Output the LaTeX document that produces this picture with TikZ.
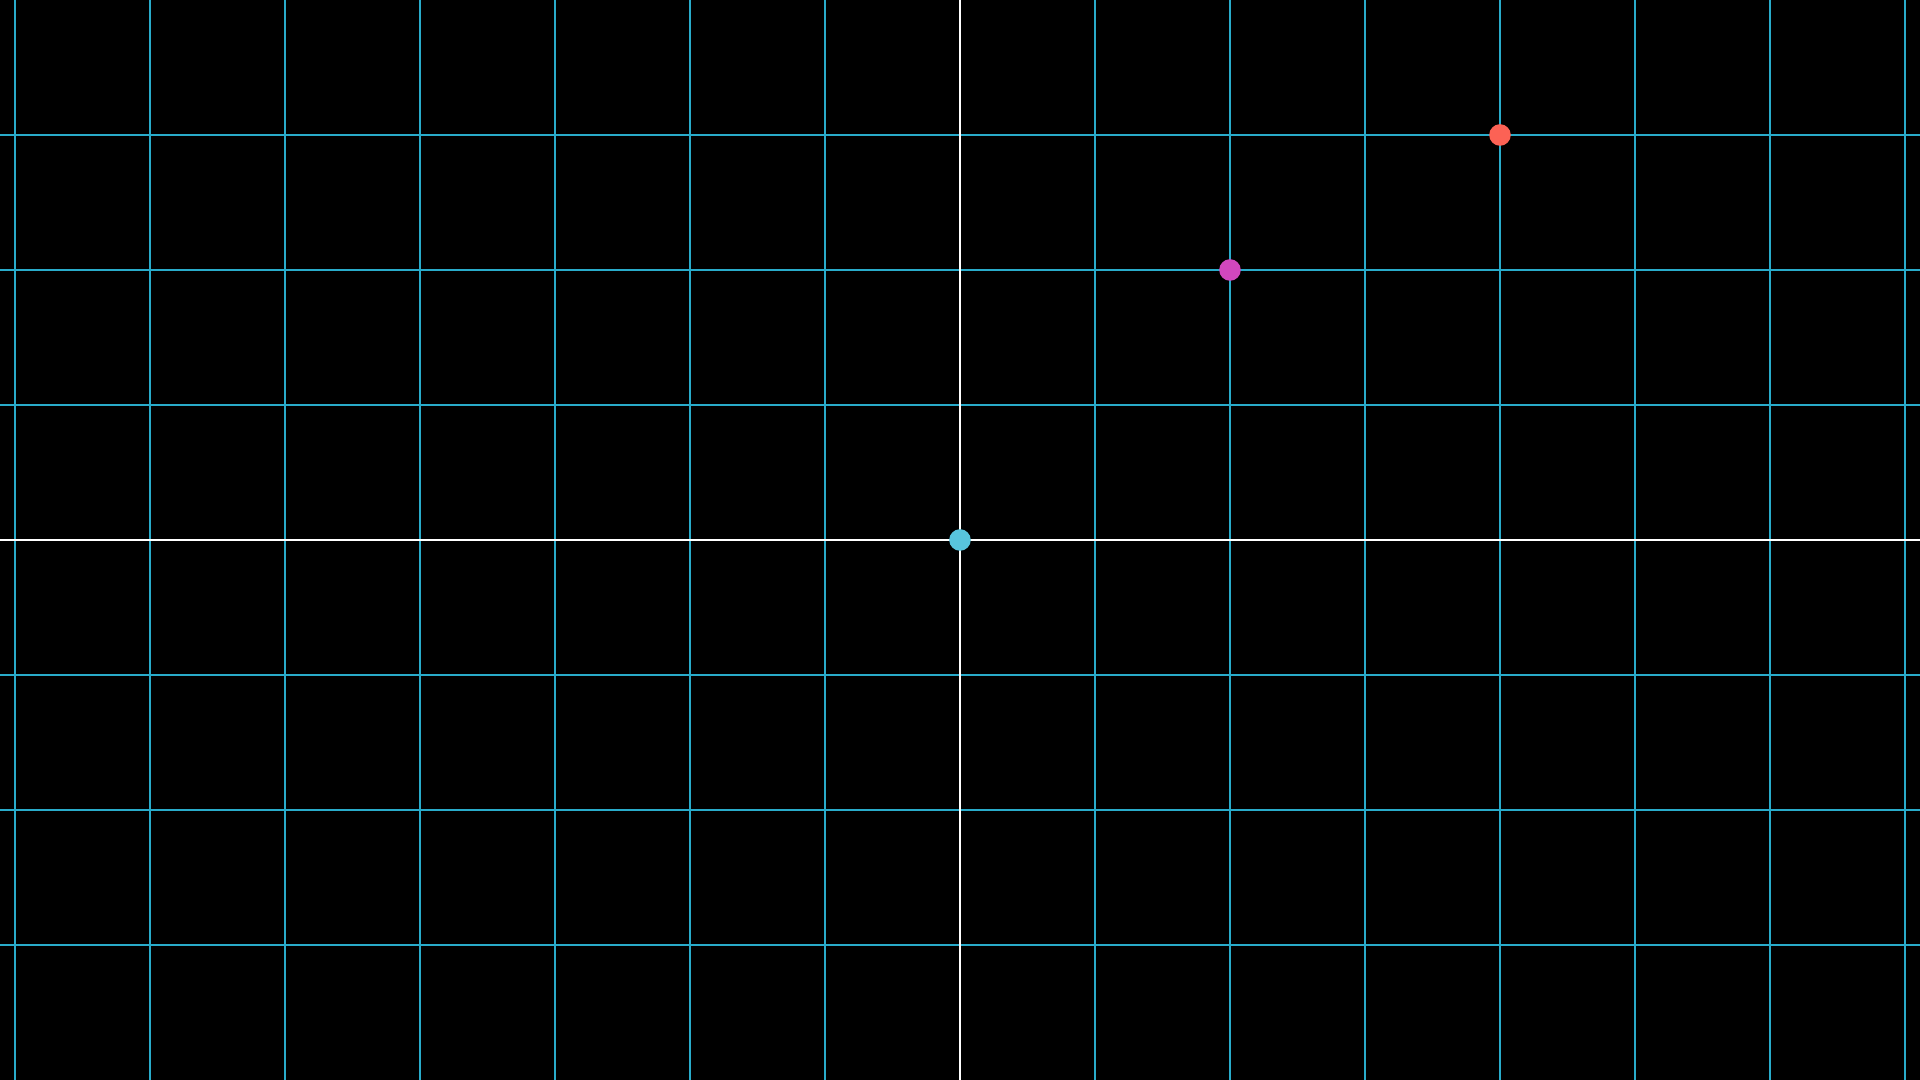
\documentclass[tikz,border=0pt]{standalone}
\definecolor{gridblue}{HTML}{29ABCA}
\definecolor{dotblue}{HTML}{58C4DD}
\definecolor{dotpink}{HTML}{D147BD}
\definecolor{dotred}{HTML}{FC6255}
\tikzset{
  gridline/.style={draw=gridblue, line width=0.58pt},
  axisline/.style={draw=white, line width=0.58pt},
  pt/.style={circle, inner sep=0pt, minimum size=0.16cm}
}
\begin{document}
\begin{tikzpicture}
\fill[black] (-7.1111,-4) rectangle (7.1111,4);
\useasboundingbox (-7.1111,-4) rectangle (7.1111,4);
\foreach \x in {-7,...,7} {\draw[gridline] (\x,-4) -- (\x,4);}
\foreach \y in {-3,...,3} {\draw[gridline] (-7.1111,\y) -- (7.1111,\y);}
\draw[axisline] (-7.1111,0) -- (7.1111,0);
\draw[axisline] (0,-4) -- (0,4);
\node[pt, fill=dotblue] (o) at (0,0) {};
\node[pt, fill=dotpink] (p) at (2,2) {};
\node[pt, fill=dotred] (q) at (4,3) {};
\end{tikzpicture}
\end{document}
